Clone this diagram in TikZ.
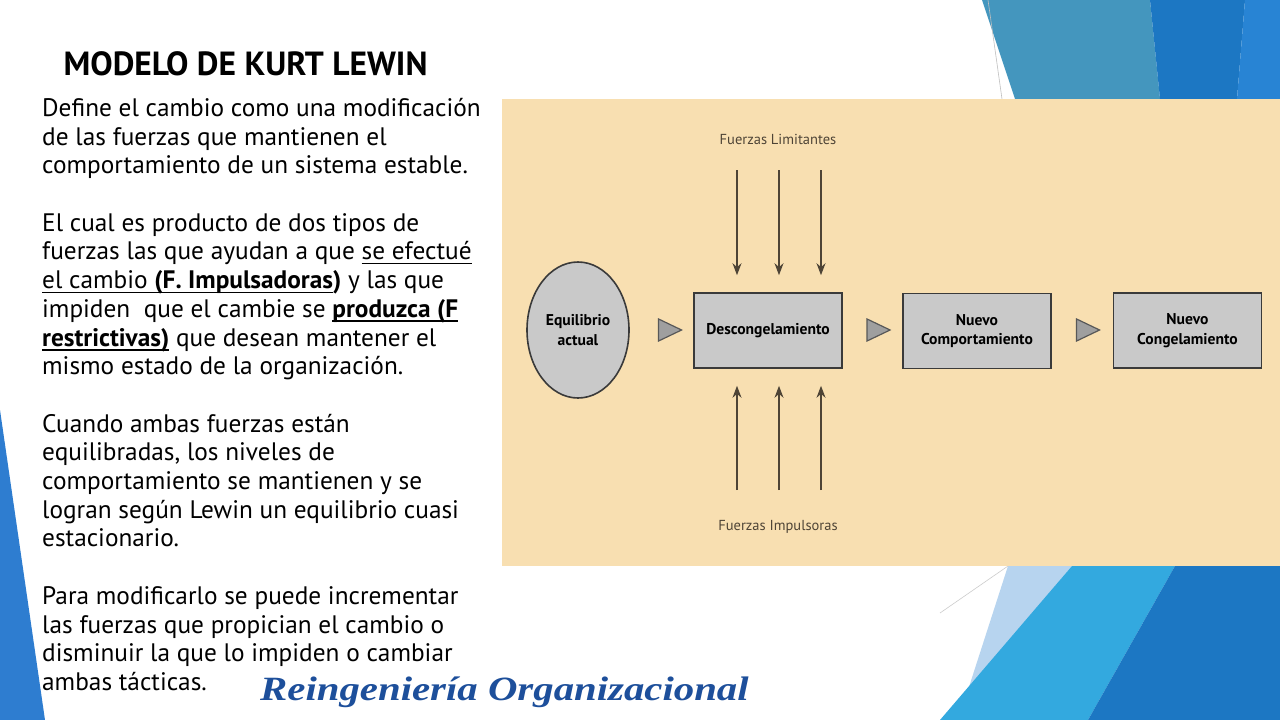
\documentclass[tikz,border=0pt]{standalone}
\usepackage{fontspec}
\setmainfont{PT Sans}
\setsansfont{PT Sans}
\newfontfamily\footfont{Liberation Serif}
\usepackage{xcolor}
\usepackage{graphicx}
\definecolor{paperColor}{HTML}{F8DFB1}
\definecolor{boxColor}{HTML}{C9C9C9}
\definecolor{edgeColor}{HTML}{3A3A3A}
\definecolor{forceColor}{HTML}{4E4436}
\definecolor{tealColor}{HTML}{4496BE}
\definecolor{deepColor}{HTML}{1C77C3}
\definecolor{brightColor}{HTML}{2884D4}
\definecolor{cyanColor}{HTML}{33A9DF}
\definecolor{paleColor}{HTML}{B7D4EF}
\definecolor{stripColor}{HTML}{2E7DD0}
\definecolor{footColor}{HTML}{1D4F9B}
\newcommand\ulin[1]{\setbox0\hbox{#1}\rlap{\rule[-4.5pt]{\wd0}{1.5pt}}\box0\relax}
\usepackage{tikz}
\usetikzlibrary{arrows.meta, positioning, shapes.geometric, calc}

\begin{document}
\begin{tikzpicture}[x=1pt, y=-1pt, >=Stealth,
    stagebox/.style={draw=edgeColor, line width=1.6pt, fill=boxColor, minimum width=148pt, minimum height=75pt, inner sep=0pt, align=center, font=\bfseries\fontsize{15.6}{19.5}\selectfont},
    pointer/.style={isosceles triangle, isosceles triangle stretches, minimum width=22pt, minimum height=23pt, inner sep=0pt, draw=edgeColor!85, line width=1.2pt, fill=gray!75},
    force/.style={draw=forceColor, line width=1.3pt, -{Stealth[length=12pt, width=9pt]}, shorten >=17pt},
    forcelabel/.style={text=forceColor, font=\fontsize{14.5}{17}\selectfont}]
        \useasboundingbox (0,0) rectangle (1280,720);
        \fill[white] (0,0) rectangle (1280,720);

        % Slide decoration (right top, right bottom, left strip)
        \fill[tealColor] (982,0) -- (1150,0) -- (1160,99) -- (1015,99) -- cycle;
        \fill[deepColor] (1150,0) -- (1245,0) -- (1237,99) -- (1160,99) -- cycle;
        \fill[brightColor] (1245,0) -- (1280,0) -- (1280,99) -- (1237,99) -- cycle;
        \draw[gray!50, line width=0.6pt] (988,0) -- (1002,99);
        \fill[paleColor] (1008,566) -- (1072,566) -- (968,690) -- cycle;
        \fill[cyanColor] (1072,566) -- (1175,566) -- (1088,720) -- (940,720) -- cycle;
        \fill[deepColor] (1175,566) -- (1280,566) -- (1280,720) -- (1088,720) -- cycle;
        \draw[gray!40, line width=0.6pt] (940,613) -- (1008,566);
        \fill[stripColor] (0,410) -- (45,720) -- (0,720) -- cycle;

        % Title and text
        \node[anchor=base west, font=\bfseries\fontsize{33.5}{40}\selectfont] (title) at (60,75) {MODELO DE KURT LEWIN};
        \node[anchor=north west, align=left, inner sep=0pt, font=\fontsize{25.3}{28.7}\selectfont] (body) at (42,98) {%
            Define el cambio como una modificación\\
            de las fuerzas que mantienen el\\
            comportamiento de un sistema estable.\\[28.7pt]
            El cual es producto de dos tipos de\\
            fuerzas las que ayudan a que \ulin{se efectué}\\
            \ulin{el cambio \textbf{(F. Impulsadoras}}\textbf{)} y las que\\
            impiden\ \ que el cambie se \ulin{\textbf{produzca (F}}\\
            \ulin{\textbf{restrictivas)}} que desean mantener el\\
            mismo estado de la organización.\\[28.7pt]
            Cuando ambas fuerzas están\\
            equilibradas, los niveles de\\
            comportamiento se mantienen y se\\
            logran según Lewin un equilibrio cuasi\\
            estacionario.\\[28.7pt]
            Para modificarlo se puede incrementar\\
            las fuerzas que propician el cambio o\\
            disminuir la que lo impiden o cambiar\\
            ambas tácticas.};

        % Diagram panel
        \fill[paperColor] (502,99) rectangle (1280,566);

        % Stages
        \node[ellipse, draw=edgeColor, line width=1.6pt, fill=boxColor, minimum width=102pt, minimum height=136pt, inner sep=0pt, align=center, font=\bfseries\fontsize{15.6}{19.5}\selectfont] (eq) at (578,330) {Equilibrio\\actual};
        \node[stagebox] (dsc) at (768,330.5) {Descongelamiento};
        \node[stagebox] (nbh) at (977,331) {Nuevo\\Comportamiento};
        \node[stagebox] (nfr) at (1187.5,330.5) {Nuevo\\Congelamiento};
        \node[pointer] (p1) at (665.5,330) {};
        \node[pointer] (p2) at (874,330) {};
        \node[pointer] (p3) at (1083.5,330) {};

        % Forces
        \node[forcelabel] (limlbl) at (778,139) {Fuerzas Limitantes};
        \node[forcelabel] (implbl) at (778,527) {Fuerzas Impulsoras};
        \foreach \x [count=\i] in {737,779,821} {
            \coordinate (lim\i) at (\x,170);
            \coordinate (imp\i) at (\x,490);
            \draw[force] (lim\i) -- (lim\i |- dsc.north);
            \draw[force] (imp\i) -- (imp\i |- dsc.south);
        }

        % Footer
        \node[anchor=base west, inner sep=0pt, text=footColor, font=\footfont\bfseries\itshape\fontsize{34}{40}\selectfont] (foot) at (260,700) {\scalebox{1.2}[1]{Reingeniería Organizacional}};
    \end{tikzpicture}
\end{document}
